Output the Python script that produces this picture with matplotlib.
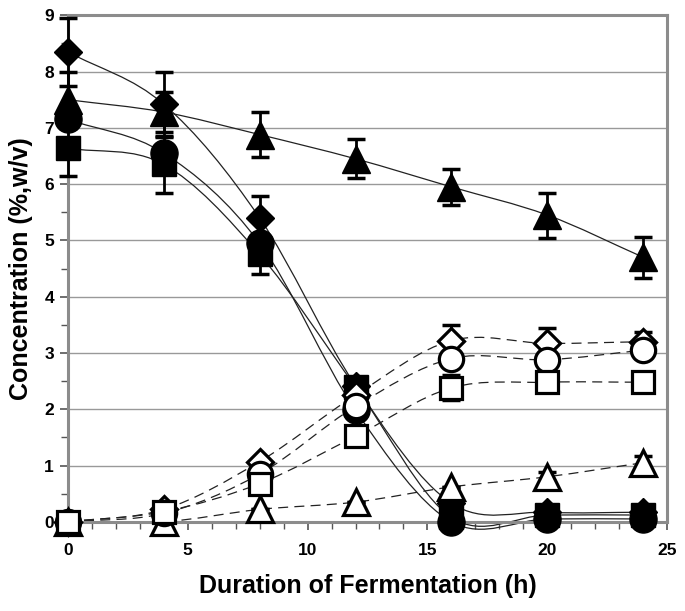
import numpy as np
import matplotlib.pyplot as plt
from matplotlib.path import Path
from matplotlib.patches import PathPatch
from matplotlib.ticker import MultipleLocator

plt.rcParams['font.family'] = ['Liberation Sans', 'DejaVu Sans']
plt.rcParams['font.weight'] = 'bold'

hours = [0, 4, 8, 12, 16, 20, 24]

# filled symbols (solid lines)
diamond_f = [8.35, 7.42, 5.40, 2.42, 0.33, 0.17, 0.17]
triangle_f = [7.50, 7.28, 6.88, 6.45, 5.95, 5.45, 4.70]
circle_f = [7.15, 6.55, 4.95, 1.98, 0.0, 0.05, 0.05]
square_f = [6.64, 6.35, 4.75, 2.40, 0.08, 0.12, 0.12]

diamond_f_err = [0.60, 0.58, 0.38, 0, 0, 0, 0]
triangle_f_err = [0.50, 0.35, 0.40, 0.35, 0.32, 0.40, 0.36]
square_f_err = [0.50, 0.50, 0.35, 0, 0, 0, 0]

# open symbols (dashed lines)
diamond_o = [0.0, 0.22, 1.07, 2.25, 3.22, 3.17, 3.20]
circle_o = [0.0, 0.15, 0.85, 2.05, 2.90, 2.88, 3.05]
square_o = [0.0, 0.18, 0.68, 1.52, 2.38, 2.48, 2.48]
triangle_o = [0.0, 0.0, 0.22, 0.35, 0.62, 0.80, 1.05]

diamond_o_err = [0, 0, 0, 0, 0.27, 0.27, 0.17]
square_o_err = [0, 0, 0, 0, 0.22, 0, 0.12]
triangle_o_err = [0, 0, 0, 0, 0, 0.08, 0.12]


def smooth_path(x, y):
    # excel-like smoothed line: cubic bezier through the points
    pts = np.column_stack([x, y]).astype(float)
    n = len(pts)
    verts = [pts[0]]
    codes = [Path.MOVETO]
    for i in range(n - 1):
        p1 = pts[i]
        p2 = pts[i + 1]
        p0 = pts[i - 1] if i > 0 else 2 * p1 - p2
        p3 = pts[i + 2] if i + 2 < n else 2 * p2 - p1
        c1 = p1 + (p2 - p0) / 6.0
        c2 = p2 - (p3 - p1) / 6.0
        verts += [c1, c2, p2]
        codes += [Path.CURVE4] * 3
    return Path(verts, codes)


fig, ax = plt.subplots(figsize=(6.85, 6.11), dpi=100)
fig.subplots_adjust(left=0.099, right=0.974, top=0.975, bottom=0.146)

ax.set_xlim(0, 25)
ax.set_ylim(0, 9)
ax.xaxis.set_major_locator(MultipleLocator(5))
ax.xaxis.set_minor_locator(MultipleLocator(1))
ax.yaxis.set_major_locator(MultipleLocator(1))
ax.yaxis.set_minor_locator(MultipleLocator(0.5))
ax.grid(axis='y', which='major', color='#999999', linewidth=1.0, zorder=0)
for s in ax.spines.values():
    s.set_color('#8c8c8c')
    s.set_linewidth(2.2)
ax.tick_params(which='both', direction='out', color='#555555', labelsize=12.5, pad=4)
ax.tick_params(which='major', length=6, width=1.2)
ax.tick_params(which='minor', length=5, width=1.0)
ax.tick_params(axis='x', pad=9)
for lab in ax.get_xticklabels() + ax.get_yticklabels():
    lab.set_fontweight('bold')

for vals in [diamond_f, triangle_f, circle_f, square_f]:
    ax.add_patch(PathPatch(smooth_path(hours, vals), fill=False, edgecolor='#222222',
                           linewidth=0.9, zorder=2, clip_on=False))
for vals in [diamond_o, circle_o, square_o, triangle_o]:
    ax.add_patch(PathPatch(smooth_path(hours, vals), fill=False, edgecolor='#222222',
                           linewidth=0.9, linestyle=(0, (8, 5)), zorder=2, clip_on=False))

eb = dict(fmt='none', ecolor='black', elinewidth=2, capsize=6.5, capthick=2.5, zorder=3)
for vals, err in [(diamond_f, diamond_f_err), (triangle_f, triangle_f_err),
                  (square_f, square_f_err), (diamond_o, diamond_o_err),
                  (square_o, square_o_err), (triangle_o, triangle_o_err)]:
    c = ax.errorbar(hours, vals, yerr=err, **eb)
    for art in c.lines[1] + c.lines[2]:
        art.set_clip_on(False)

mk = dict(linestyle='none', zorder=4, clip_on=False)
ax.plot(hours, triangle_f, marker='^', ms=20, color='black', **mk)
ax.plot(hours, diamond_f, marker='D', ms=14.5, color='black', **mk)
ax.plot(hours, circle_f, marker='o', ms=19.5, color='black', **mk)
ax.plot(hours, square_f, marker='s', ms=17, color='black', **mk)

om = dict(linestyle='none', markerfacecolor='white', markeredgecolor='black',
          markeredgewidth=2.3, zorder=5, clip_on=False)
ax.plot(hours, triangle_o, marker='^', ms=19, **om)
ax.plot(hours, diamond_o, marker='D', ms=13.5, **om)
ax.plot(hours, circle_o, marker='o', ms=17.5, **om)
ax.plot(hours, square_o, marker='s', ms=15.5, **om)

ax.set_xlabel('Duration of Fermentation (h)', fontsize=18, fontweight='bold', labelpad=12)
ax.set_ylabel('Concentration (%,w/v)', fontsize=18, fontweight='bold', labelpad=8)

plt.savefig('out.png', dpi=100)
